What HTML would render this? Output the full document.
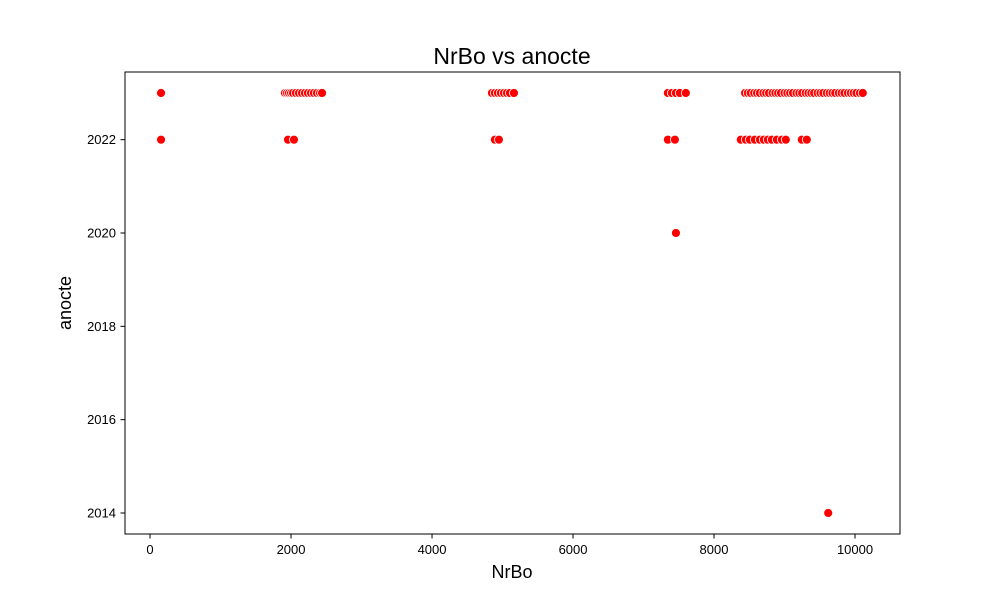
<!DOCTYPE html>
<html><head><meta charset="utf-8"><style>body{margin:0;background:#fff}text{font-family:"Liberation Sans","DejaVu Sans",sans-serif}</style></head>
<body>
<svg id="chart" width="1000" height="600">
<rect width="1000" height="600" fill="#fff"/>
<text x="512" y="64" font-size="23" text-anchor="middle">NrBo vs anocte</text>
<g id="ticks"></g>
<g id="points"></g>
<rect x="125" y="72" width="775" height="462" fill="none" stroke="#000" stroke-width="1"/>
<text x="512" y="578" font-size="18" text-anchor="middle">NrBo</text>
<text transform="translate(71,303) rotate(-90)" font-size="18" text-anchor="middle">anocte</text>
</svg>
<script>
const xTicks=[0,2000,4000,6000,8000,10000];
const yTicks=[2014,2016,2018,2020,2022];
const nrbo2023=[156,1914,1943,1971,2000,2028,2070,2113,2155,2198,2240,2283,2325,2368,2411,2440,4850,4892,4935,4977,5020,5063,5105,5162,7345,7402,7459,7515,7600,8440,8480,8520,8570,8610,8650,8700,8740,8780,8830,8870,8910,8950,9000,9040,9080,9120,9170,9210,9250,9300,9340,9380,9420,9470,9510,9550,9600,9640,9680,9720,9770,9810,9850,9900,9940,9980,10020,10070,10110];
const nrbo2022=[156,1957,2042,4892,4949,7345,7445,8380,8451,8508,8579,8650,8707,8763,8820,8891,8962,9018,9245,9316];
const nrboOther=[7460,9620];
const anocteOther=[2020,2014];
const X=v=>125+(v+355)*775/(10638+355);
const Y=v=>534-(v-2013.55)*462/(2023.45-2013.55);
const NS="http://www.w3.org/2000/svg";
const tg=document.getElementById('ticks'),pg=document.getElementById('points');
function mk(tag,attrs,parent){const e=document.createElementNS(NS,tag);for(const k in attrs)e.setAttribute(k,attrs[k]);parent.appendChild(e);return e;}
xTicks.forEach(t=>{const x=X(t);
 const l=mk('line',{x1:x,x2:x,y1:534,y2:538.5,stroke:'#000'},tg);
 
 
 const tx=mk('text',{x:x,y:554,'font-size':13,'text-anchor':'middle'},tg);tx.textContent=t;
 
 });
yTicks.forEach(t=>{const y=Y(t);
 const l=mk('line',{x1:120.5,x2:125,y1:y,y2:y,stroke:'#000'},tg);
 
 
 const tx=mk('text',{x:116,y:y+4.5,'font-size':13,'text-anchor':'end'},tg);tx.textContent=t;
 
 });
function pt(x,y){const c=mk('circle',{cx:X(x),cy:Y(y),r:4.5,fill:'#ff0000',stroke:'#fff','stroke-width':0.8},pg);
 
 }
nrbo2023.forEach(v=>pt(v,2023));
nrbo2022.forEach(v=>pt(v,2022));
nrboOther.forEach((v,i)=>pt(v,anocteOther[i]));
</script>
</body></html>
